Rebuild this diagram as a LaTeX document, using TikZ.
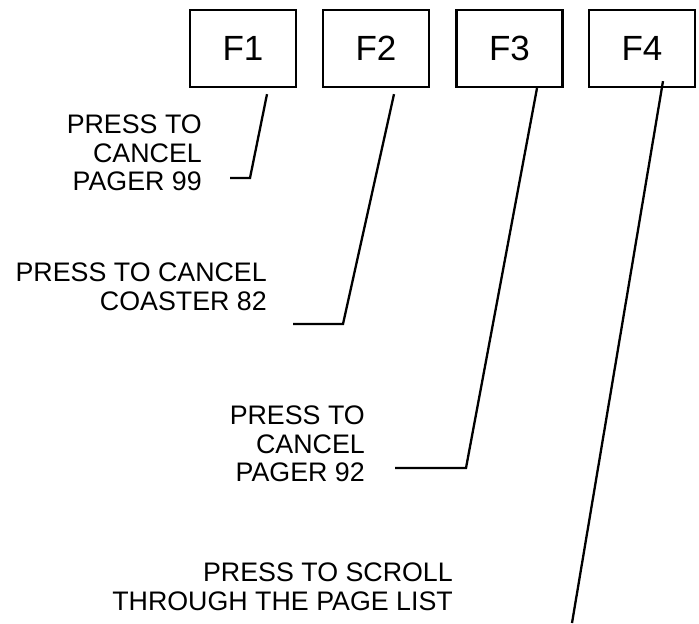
\documentclass[tikz,border=0pt]{standalone}
\usepackage{fontspec}
\setmainfont{Liberation Sans}
\begin{document}
\begin{tikzpicture}[x=1pt,y=-1pt,
  fkey/.style={draw,line width=2.3pt,minimum width=106pt,minimum height=77pt,inner sep=0pt,font=\fontsize{35}{40}\selectfont},
  note/.style={align=right,anchor=north east,inner sep=0pt,font=\fontsize{26.8}{28.5}\selectfont},
  leader/.style={line width=2.3pt,line join=miter}]
\useasboundingbox (0,0) rectangle (699,624);
\node[fkey] (f1) at (243,48.5) {F1};
\node[fkey] (f2) at (376,48.5) {F2};
\node[fkey] (f3) at (509.5,48.5) {F3};
\node[fkey] (f4) at (642,48.5) {F4};

\node[note] (t1) at (202,114.8) {PRESS TO\\CANCEL\\PAGER 99};
\node[note] (t2) at (267,262.8) {PRESS TO CANCEL\\COASTER 82};
\node[note] (t3) at (365,405.8) {PRESS TO\\CANCEL\\PAGER 92};
\node[note] (t4) at (453,562.8) {PRESS TO SCROLL\\THROUGH THE PAGE LIST};

\coordinate (c1) at (250,178);
\coordinate (e1) at (230,178);
\coordinate (c2) at (343,324);
\coordinate (e2) at (293,324);
\coordinate (c3) at (466,468);
\coordinate (e3) at (395,468);
\coordinate (e4) at (572,623);

\draw[leader] ([xshift=24pt,yshift=-6pt]f1.south) -- (c1) -- (e1);
\draw[leader] ([xshift=18pt,yshift=-6pt]f2.south) -- (c2) -- (e2);
\draw[leader] ([xshift=27.5pt]f3.south) -- (c3) -- (e3);
\draw[leader] ([xshift=21pt,yshift=7pt]f4.south) -- (e4);
\end{tikzpicture}
\end{document}
